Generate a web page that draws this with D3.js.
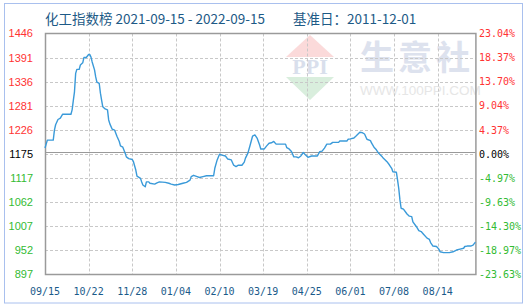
<!DOCTYPE html>
<html><head><meta charset="utf-8">
<script src="https://cdn.jsdelivr.net/npm/d3@7"></script>
<style>
html,body{margin:0;padding:0;background:#fff;}
svg{display:block;}
</style></head>
<body>
<svg id="chart" width="529" height="306"></svg>
<script>
// ---- DATA ----
const titleLeft = "化工指数榜 2021-09-15 - 2022-09-15";
const titleRight = "基准日：2011-12-01";
const baseValue = 1175;
const dates = ["2021-09-15","2021-09-17","2021-09-22","2021-09-23","2021-09-24","2021-09-26","2021-09-28","2021-09-30","2021-10-07","2021-10-08","2021-10-09","2021-10-10","2021-10-11","2021-10-12","2021-10-14","2021-10-15","2021-10-17","2021-10-18","2021-10-20","2021-10-22","2021-10-23","2021-10-24","2021-10-25","2021-10-27","2021-10-28","2021-10-29","2021-10-31","2021-11-01","2021-11-02","2021-11-03","2021-11-05","2021-11-07","2021-11-08","2021-11-09","2021-11-11","2021-11-13","2021-11-15","2021-11-17","2021-11-18","2021-11-20","2021-11-22","2021-11-23","2021-11-25","2021-11-28","2021-11-29","2021-12-01","2021-12-02","2021-12-05","2021-12-06","2021-12-07","2021-12-09","2021-12-10","2021-12-12","2021-12-13","2021-12-17","2021-12-19","2021-12-21","2021-12-26","2021-12-29","2021-12-31","2022-01-03","2022-01-06","2022-01-10","2022-01-13","2022-01-16","2022-01-17","2022-01-19","2022-01-22","2022-01-24","2022-01-27","2022-01-30","2022-02-05","2022-02-06","2022-02-08","2022-02-10","2022-02-12","2022-02-15","2022-02-17","2022-02-20","2022-02-22","2022-02-24","2022-02-26","2022-03-01","2022-03-03","2022-03-04","2022-03-06","2022-03-08","2022-03-10","2022-03-12","2022-03-14","2022-03-16","2022-03-17","2022-03-20","2022-03-22","2022-03-24","2022-03-26","2022-03-28","2022-03-30","2022-04-07","2022-04-08","2022-04-10","2022-04-12","2022-04-14","2022-04-16","2022-04-18","2022-04-20","2022-04-22","2022-04-24","2022-04-26","2022-04-29","2022-05-04","2022-05-06","2022-05-08","2022-05-10","2022-05-12","2022-05-15","2022-05-17","2022-05-22","2022-05-23","2022-05-29","2022-05-30","2022-06-01","2022-06-04","2022-06-06","2022-06-09","2022-06-11","2022-06-13","2022-06-15","2022-06-18","2022-06-19","2022-06-21","2022-06-23","2022-06-25","2022-06-28","2022-06-29","2022-07-02","2022-07-04","2022-07-06","2022-07-07","2022-07-10","2022-07-11","2022-07-12","2022-07-13","2022-07-14","2022-07-16","2022-07-19","2022-07-21","2022-07-23","2022-07-24","2022-07-27","2022-07-29","2022-07-31","2022-08-02","2022-08-05","2022-08-07","2022-08-08","2022-08-10","2022-08-13","2022-08-15","2022-08-16","2022-08-19","2022-08-24","2022-08-27","2022-08-30","2022-09-02","2022-09-05","2022-09-06","2022-09-08","2022-09-11","2022-09-13","2022-09-15"];
const values = [1185,1203,1203,1226,1238,1250,1253,1262,1262,1272,1293,1313,1355,1364,1364,1374,1379,1391,1391,1398,1398,1392,1381,1363,1347,1335,1332,1310,1294,1279,1274,1272,1249,1240,1228,1226,1212,1200,1190,1187,1173,1165,1161,1159,1154,1135,1121,1116,1108,1101,1097,1108,1108,1105,1103,1106,1108,1107,1105,1103,1101,1102,1105,1107,1112,1120,1123,1120,1118,1120,1122,1122,1139,1158,1171,1169,1167,1160,1158,1146,1143,1146,1146,1153,1162,1173,1192,1212,1215,1207,1192,1183,1183,1190,1196,1197,1200,1194,1194,1186,1183,1177,1165,1165,1163,1167,1175,1169,1164,1167,1167,1177,1178,1185,1194,1194,1198,1198,1201,1201,1205,1206,1208,1213,1221,1220,1217,1205,1202,1196,1187,1181,1173,1165,1162,1154,1147,1139,1131,1130,1112,1093,1067,1048,1046,1035,1030,1029,1017,1006,997,995,989,980,977,970,962,961,955,949,947,947,949,953,955,957,961,962,962,964,971];
const xTickDates = ["2021-09-15","2021-10-22","2021-11-28","2022-01-04","2022-02-10","2022-03-19","2022-04-25","2022-06-01","2022-07-08","2022-08-14"];
const xTickLabels = ["09/15","10/22","11/28","01/04","02/10","03/19","04/25","06/01","07/08","08/14"];
const yMin = 897.3, yMax = 1445.7;
const leftLabels = ["897","952","1007","1062","1117","1175","1226","1281","1336","1391","1446"];
const rightLabels = ["-23.63%","-18.97%","-14.30%","-9.63%","-4.97%","0.00%","4.37%","9.04%","13.70%","18.37%","23.04%"];

// ---- LAYOUT ----
const L = 45, R = 475.4, T = 33.5, B = 274.5;
const parse = d3.timeParse("%Y-%m-%d");
const svg = d3.select("#chart");

const x = d3.scaleTime().domain([parse("2021-09-15"), parse("2022-09-15")]).range([L, R]);
const y = d3.scaleLinear().domain([yMin, yMax]).range([B, T]);
const yTicks = d3.range(leftLabels.length).map(i => yMin + i * (yMax - yMin) / (leftLabels.length - 1));

// outer frame
svg.append("rect").attr("x",4.5).attr("y",3.5).attr("width",518).attr("height",299.5)
  .attr("fill","#fff").attr("stroke","#a9c0ee").attr("stroke-width",1);

// watermark
const wm = svg.append("g");
wm.append("path").attr("d",`M310,35 L334,57 L286,57 Z`).attr("fill","#fbdada");
wm.append("path").attr("d",`M286,77 L334,77 L310,100 Z`).attr("fill","#d9eedd");
wm.append("text").attr("x",310).attr("y",74).attr("text-anchor","middle")
  .attr("font-family","Liberation Serif, serif").attr("font-weight","bold").attr("font-size",22)
  .attr("fill","#d9dfec").text("PPI");
wm.append("text").attr("x",360).attr("y",70).attr("font-family","Noto Sans CJK SC")
  .attr("font-weight","bold").attr("font-size",34).attr("letter-spacing",4).attr("fill","#dde2ee").text("生意社");
wm.append("text").attr("x",360).attr("y",95).attr("font-family","Liberation Sans, Arial")
  .attr("font-size",13.5).attr("fill","#e6e6e6").text("WWW.100PPI.COM");

// gridlines
const grid = svg.append("g").attr("stroke","#c8c8c8").attr("stroke-dasharray","3,2").attr("stroke-width",1);
yTicks.slice(1, -1).forEach(v => {
  grid.append("line").attr("x1",L).attr("x2",R).attr("y1",Math.round(y(v))+0.5).attr("y2",Math.round(y(v))+0.5);
});
xTickDates.slice(1).forEach(d => {
  const px = Math.round(x(parse(d))) + 0.5;
  grid.append("line").attr("x1",px).attr("x2",px).attr("y1",T).attr("y2",B);
});

// base line
svg.append("line").attr("x1",L).attr("x2",R).attr("y1",Math.round(y(baseValue))+0.5).attr("y2",Math.round(y(baseValue))+0.5)
  .attr("stroke","#999").attr("stroke-width",1.2);

// plot frame
svg.append("rect").attr("x",L+0.5).attr("y",T).attr("width",R-L).attr("height",B-T)
  .attr("fill","none").attr("stroke","#9a9a9a").attr("stroke-width",1.5);

// line
const pts = dates.map((d,i) => ({d: parse(d), v: values[i]}));
svg.append("path").datum(pts)
  .attr("d", d3.line().x(p => x(p.d)).y(p => y(p.v)))
  .attr("fill","none").attr("stroke","#3a9ad9").attr("stroke-width",1.4)
  .attr("stroke-linejoin","round");

// left labels
yTicks.forEach((v,i) => {
  const lab = leftLabels[i];
  const col = i === 5 ? "#000" : (i > 5 ? "#ff3333" : "#33bb33");
  svg.append("text").attr("x",33).attr("y",y(v)).attr("dy","0.36em").attr("text-anchor","end")
    .attr("font-family","Liberation Sans, Arial").attr("font-size",11).attr("fill",col).text(lab);
  svg.append("text").attr("x",479).attr("y",y(v)).attr("dy","0.36em")
    .attr("font-family","DejaVu Sans Mono, monospace").attr("font-size",10).attr("fill",col).text(rightLabels[i]);
});

// x labels
xTickDates.forEach((d,i) => {
  svg.append("text").attr("x",x(parse(d))).attr("y",295).attr("text-anchor","middle")
    .attr("font-family","DejaVu Sans Mono, monospace").attr("font-size",10).attr("fill","#1a5a8a").text(xTickLabels[i]);
});

// title
svg.append("text").attr("x",45).attr("y",24).attr("font-family","Noto Sans CJK SC, sans-serif")
  .attr("font-size",13.5).attr("fill","#1d5a86").text(titleLeft);
svg.append("text").attr("x",293).attr("y",24).attr("font-family","Noto Sans CJK SC, sans-serif")
  .attr("font-size",13.5).attr("fill","#1d5a86").text(titleRight);
</script>
</body></html>
